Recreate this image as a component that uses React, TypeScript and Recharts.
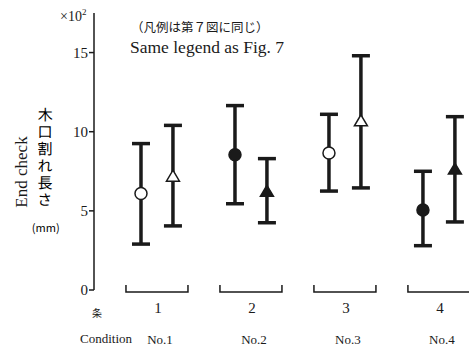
import React from 'react';
import { ComposedChart, Scatter, XAxis, YAxis, ErrorBar } from 'recharts';

const conditions = ['1', '2', '3', '4'];
const conditionNames = ['No.1', 'No.2', 'No.3', 'No.4'];
const groupPositions = [1, 2, 3, 4];
const circleMean = [6.1, 8.55, 8.65, 5.05];
const circleHigh = [9.25, 11.65, 11.1, 7.5];
const circleLow = [2.9, 5.45, 6.25, 2.8];
const triangleMean = [7.15, 6.2, 10.65, 7.6];
const triangleHigh = [10.4, 8.3, 14.8, 10.95];
const triangleLow = [4.05, 4.25, 6.45, 4.3];
const filledMarkers = [false, true, false, true];
const yTicks = [0, 5, 10, 15];

const OFFSET = 0.17;
const INK = '#1a1a1a';
const SERIF = '"Liberation Serif", "Times New Roman", serif';
const CJK = '"Noto Sans CJK JP", sans-serif';

const circleData = groupPositions.map((g, i) => ({
  x: g - OFFSET,
  y: circleMean[i],
  err: [circleMean[i] - circleLow[i], circleHigh[i] - circleMean[i]],
  filled: filledMarkers[i],
}));
const triangleData = groupPositions.map((g, i) => ({
  x: g + OFFSET,
  y: triangleMean[i],
  err: [triangleMean[i] - triangleLow[i], triangleHigh[i] - triangleMean[i]],
  filled: filledMarkers[i],
}));

const CircleShape = (props: any) => {
  const { cx, cy, payload } = props;
  return (
    <circle cx={cx} cy={cy} r={6} fill={payload.filled ? INK : '#fff'} stroke={INK} strokeWidth={1.5} />
  );
};

const TriangleShape = (props: any) => {
  const { cx, cy, payload } = props;
  const h = 11;
  const w = 6.5;
  return (
    <path
      d={`M${cx},${cy - h * 0.6} L${cx + w},${cy + h * 0.4} L${cx - w},${cy + h * 0.4} Z`}
      fill={payload.filled ? INK : '#fff'}
      stroke={INK}
      strokeWidth={1.5}
      strokeLinejoin="miter"
    />
  );
};

const ConditionTick = (props: any) => {
  const { x, y, payload } = props;
  const i = groupPositions.indexOf(payload.value);
  if (i < 0) return null;
  return (
    <g>
      <path
        d={`M${x - 31},${y - 5} L${x - 31},${y + 2} L${x + 31},${y + 2} L${x + 31},${y - 5}`}
        fill="none"
        stroke={INK}
        strokeWidth={1.5}
      />
      <text x={x + 1} y={y + 23} textAnchor="middle" fontFamily={SERIF} fontSize={15} fill={INK}>
        {conditions[i]}
      </text>
      <text x={x + 3} y={y + 54} textAnchor="middle" fontFamily={SERIF} fontSize={13} fill={INK}>
        {conditionNames[i]}
      </text>
    </g>
  );
};

export default function App() {
  return (
    <div style={{ position: 'absolute', left: 0, top: 0, width: 469, height: 351, background: '#fff' }}>
      <ComposedChart width={469} height={351} margin={{ top: 13, right: 0, bottom: 0, left: 0 }}>
        <XAxis
          type="number"
          dataKey="x"
          domain={[0.33, 4.32]}
          allowDataOverflow
          ticks={groupPositions}
          axisLine={false}
          tickLine={false}
          tickSize={0}
          tickMargin={0}
          height={61}
          tick={<ConditionTick />}
          interval={0}
        />
        <YAxis
          type="number"
          dataKey="y"
          domain={[0, 17.5]}
          allowDataOverflow
          ticks={yTicks}
          width={94}
          axisLine={{ stroke: INK, strokeWidth: 1.5 }}
          tickLine={{ stroke: INK, strokeWidth: 1.5 }}
          tickSize={5}
          tickMargin={1}
          tick={{ fontFamily: SERIF, fontSize: 15, fill: INK }}
        />
        <Scatter data={circleData} shape={<CircleShape />} isAnimationActive={false}>
          <ErrorBar dataKey="err" direction="y" width={9} stroke={INK} strokeWidth={3.5} />
        </Scatter>
        <Scatter data={triangleData} shape={<TriangleShape />} isAnimationActive={false}>
          <ErrorBar dataKey="err" direction="y" width={9} stroke={INK} strokeWidth={3.5} />
        </Scatter>
      </ComposedChart>
      <svg
        width={469}
        height={351}
        style={{ position: 'absolute', left: 0, top: 0, pointerEvents: 'none', color: INK }}
      >
        <text x={60} y={21} fontFamily={SERIF} fontSize={14} fill={INK}>
          ×10<tspan dy={-6} fontSize={9}>2</tspan>
        </text>
        <text x={131} y={32} fontFamily={CJK} fontSize={12.5} fill={INK}>
          （凡例は第７図に同じ）
        </text>
        <text x={130} y={53} fontFamily={SERIF} fontSize={17.5} fill={INK}>
          Same legend as Fig. 7
        </text>
        <text
          x={0}
          y={0}
          transform="translate(27,172) rotate(-90)"
          textAnchor="middle"
          fontFamily={SERIF}
          fontSize={17}
          fill={INK}
        >
          End check
        </text>
        <g transform="rotate(0.2 45 160)">
          <text
            x={45}
            y={107}
            fontFamily={CJK}
            fontSize={15}
            fill="#000000"
            letterSpacing={2}
            style={{ writingMode: 'vertical-rl', textOrientation: 'upright' } as any}
          >
            木口割れ長さ
          </text>
          <text x={46} y={232} textAnchor="middle" fontFamily={CJK} fontSize={11} fill="#000000">
            (mm)
          </text>
        </g>
        <text x={97} y={317} textAnchor="middle" fontFamily={CJK} fontSize={10} fill={INK}>
          条
        </text>
        <text x={106} y={343} textAnchor="middle" fontFamily={SERIF} fontSize={13} fill={INK}>
          Condition
        </text>
      </svg>
    </div>
  );
}
